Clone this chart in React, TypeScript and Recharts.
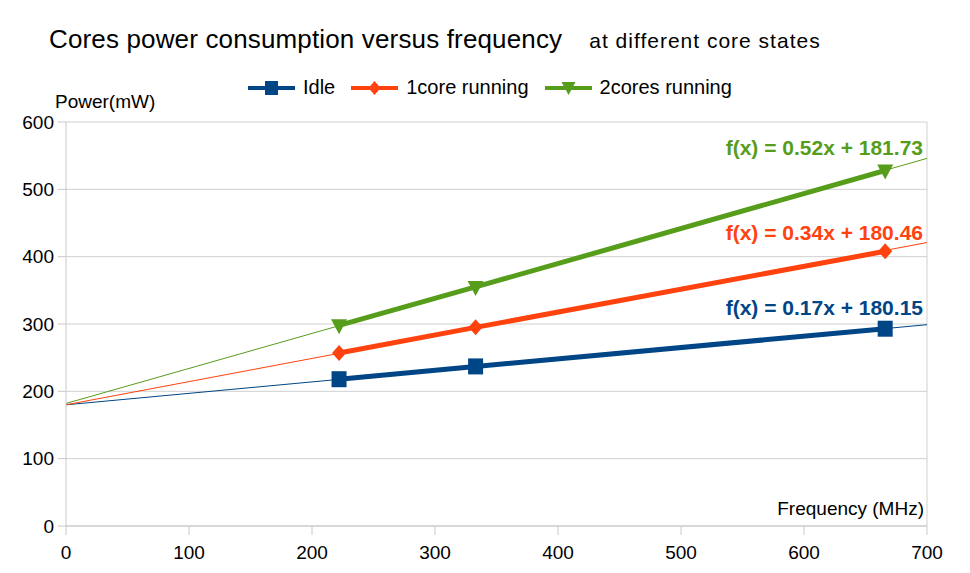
import { ComposedChart, Line, XAxis, YAxis, CartesianGrid, ReferenceLine } from "recharts"

// frequencies measured (MHz)
const freqs = [222, 333, 666]
const idle = [218, 237, 293]
const oneCore = [257, 295, 408]
const twoCores = [298, 355, 528]

// linear trend lines, read at both ends of the axis
const trendX = [0, 700]
const idleTrend = [180, 299]
const oneCoreTrend = [180, 421]
const twoCoresTrend = [182, 546]

const equations = ["f(x) = 0.17x + 180.15", "f(x) = 0.34x + 180.46", "f(x) = 0.52x + 181.73"]
const seriesNames = ["Idle", "1core running", "2cores running"]

const xTicks = [0, 100, 200, 300, 400, 500, 600, 700]
const yTicks = [0, 100, 200, 300, 400, 500, 600]

const BLUE = "#004586"
const ORANGE = "#ff420e"
const GREEN = "#579d1c"
const FONT = "'Liberation Sans', Arial, sans-serif"

const toPoints = (xs: number[], ys: number[]) => xs.map((x, i) => ({ x, y: ys[i] }))

const idleData = toPoints(freqs, idle)
const oneCoreData = toPoints(freqs, oneCore)
const twoCoresData = toPoints(freqs, twoCores)

const idleTrendData = toPoints(trendX, idleTrend)
const oneCoreTrendData = toPoints(trendX, oneCoreTrend)
const twoCoresTrendData = toPoints(trendX, twoCoresTrend)

function SquareDot(props: any) {
    const { cx, cy } = props
    if (cx == null || cy == null) return null
    return <rect x={cx - 7.5} y={cy - 8} width={15} height={16} fill={BLUE} />
}

function DiamondDot(props: any) {
    const { cx, cy } = props
    if (cx == null || cy == null) return null
    return <polygon points={`${cx},${cy - 8} ${cx + 7},${cy} ${cx},${cy + 8} ${cx - 7},${cy}`} fill={ORANGE} />
}

function TriangleDot(props: any) {
    const { cx, cy } = props
    if (cx == null || cy == null) return null
    return <polygon points={`${cx - 8},${cy - 6} ${cx + 8},${cy - 6} ${cx},${cy + 9}`} fill={GREEN} />
}

const equationLabel = (text: string, color: string, dy: number) => (props: any) => {
    const { x, y, index } = props
    if (index !== 1) return null
    return (
        <text x={x - 4} y={y + dy} textAnchor="end" fill={color} fontSize={21} fontWeight="bold" fontFamily={FONT}>
            {text}
        </text>
    )
}

function LegendIcon({ color, kind }: { color: string, kind: string }) {
    return (
        <svg width={47} height={16} style={{ marginRight: 8 }}>
            <line x1={0} y1={8} x2={47} y2={8} stroke={color} strokeWidth={4} />
            {kind === "square" && <rect x={17} y={1} width={13} height={14} fill={color} />}
            {kind === "diamond" && <polygon points="23.5,1 29.5,8 23.5,15 17.5,8" fill={color} />}
            {kind === "triangle" && <polygon points="16.5,2 30.5,2 23.5,15" fill={color} />}
        </svg>
    )
}

export default function App() {
    const colors = [BLUE, ORANGE, GREEN]
    const kinds = ["square", "diamond", "triangle"]

    return (
        <div style={{ position: "relative", width: 970, height: 573, background: "#fff", fontFamily: FONT, margin: -8 }}>
            <div style={{ position: "absolute", left: 6, top: 5, right: 0, bottom: 0, borderTop: "1px solid #e4e4e4", borderLeft: "1px solid #e4e4e4" }} />
            <div style={{ position: "absolute", left: 49, top: 24, whiteSpace: "nowrap", color: "#000" }}>
                <span style={{ fontSize: 26, letterSpacing: 0.15 }}>Cores power consumption versus frequency</span>
                <span style={{ fontSize: 21, marginLeft: 27, letterSpacing: 1 }}>at different core states</span>
            </div>
            <div style={{ position: "absolute", left: 248, top: 76, display: "flex", alignItems: "center", fontSize: 20, color: "#000", whiteSpace: "nowrap" }}>
                {seriesNames.map((name, i) => (
                    <div key={name} style={{ display: "flex", alignItems: "center", marginRight: 16 }}>
                        <LegendIcon color={colors[i]} kind={kinds[i]} />
                        <span>{name}</span>
                    </div>
                ))}
            </div>
            <div style={{ position: "absolute", left: 55, top: 91, fontSize: 19, color: "#000" }}>Power(mW)</div>
            <div style={{ position: "absolute", right: 46, top: 498, fontSize: 19, color: "#000" }}>Frequency (MHz)</div>

            <ComposedChart width={970} height={573} margin={{ top: 122, right: 43, bottom: 5, left: 10 }}>
                <CartesianGrid vertical={false} stroke="#d0d0d0" />
                <XAxis
                    type="number"
                    dataKey="x"
                    domain={[0, 700]}
                    ticks={xTicks}
                    allowDataOverflow
                    stroke="#c8c8c8"
                    tickSize={9}
                    height={42}
                    tick={{ fill: "#000", fontSize: 19, fontFamily: FONT }}
                    tickMargin={11}
                />
                <YAxis
                    type="number"
                    dataKey="y"
                    domain={[0, 600]}
                    ticks={yTicks}
                    stroke="#c8c8c8"
                    tickSize={8}
                    width={56}
                    tick={{ fill: "#000", fontSize: 19, fontFamily: FONT }}
                    tickMargin={4}
                />
                <ReferenceLine x={700} stroke="#d0d0d0" />

                <Line data={idleTrendData} dataKey="y" stroke={BLUE} strokeWidth={1} dot={false} isAnimationActive={false} label={equationLabel(equations[0], BLUE, -10)} />
                <Line data={oneCoreTrendData} dataKey="y" stroke={ORANGE} strokeWidth={1} dot={false} isAnimationActive={false} label={equationLabel(equations[1], ORANGE, -3)} />
                <Line data={twoCoresTrendData} dataKey="y" stroke={GREEN} strokeWidth={1} dot={false} isAnimationActive={false} label={equationLabel(equations[2], GREEN, -3)} />

                <Line data={idleData} dataKey="y" stroke={BLUE} strokeWidth={5} dot={<SquareDot />} isAnimationActive={false} />
                <Line data={oneCoreData} dataKey="y" stroke={ORANGE} strokeWidth={5} dot={<DiamondDot />} isAnimationActive={false} />
                <Line data={twoCoresData} dataKey="y" stroke={GREEN} strokeWidth={5} dot={<TriangleDot />} isAnimationActive={false} />
            </ComposedChart>
        </div>
    )
}
